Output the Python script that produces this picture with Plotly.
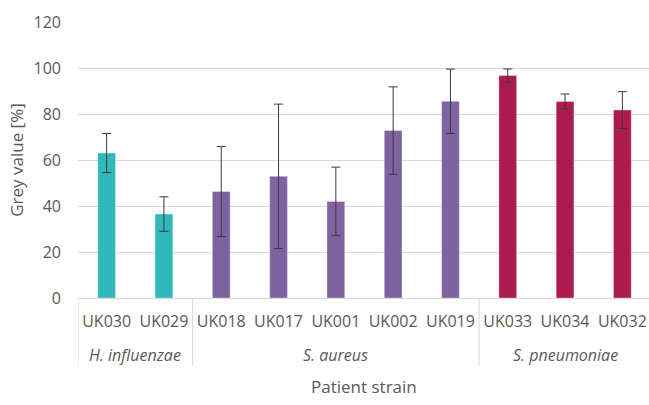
import plotly.graph_objects as go

# Grey value measurements per patient strain, grouped by species
strains = ["UK030", "UK029", "UK018", "UK017", "UK001", "UK002", "UK019", "UK033", "UK034", "UK032"]
species = ["H. influenzae", "H. influenzae",
           "S. aureus", "S. aureus", "S. aureus", "S. aureus", "S. aureus",
           "S. pneumoniae", "S. pneumoniae", "S. pneumoniae"]
grey_value = [63.0, 36.5, 46.3, 52.9, 42.0, 72.8, 85.5, 96.7, 85.4, 81.7]
grey_sd = [8.5, 7.5, 19.6, 31.4, 14.9, 19.0, 14.0, 2.9, 3.3, 8.0]
y_ticks = [0, 20, 40, 60, 80, 100, 120]

species_colors = {
    "H. influenzae": "#30b8ba",
    "S. aureus": "#7f63a1",
    "S. pneumoniae": "#ad1a50",
}

FONT = "Open Sans"
TEXT_COLOR = "#595959"
GRID_COLOR = "#d9d9d9"

fig = go.Figure(
    go.Bar(
        x=strains,
        y=grey_value,
        width=0.31,
        marker=dict(color=[species_colors[s] for s in species],
                    line=dict(color="rgba(255,255,255,0.35)", width=1)),
        error_y=dict(type="data", array=grey_sd, visible=True,
                     color="#3a3a3a", thickness=1, width=4.5),
        showlegend=False,
    )
)

# Species group labels and dividers under the strain labels
groups = []
for i, s in enumerate(species):
    if not groups or groups[-1][0] != s:
        groups.append([s, i, i])
    else:
        groups[-1][2] = i

shapes = []
annotations = []
for name, first, last in groups:
    annotations.append(dict(
        x=(first + last) / 2, y=-0.205, xref="x", yref="paper",
        text=f"<i>{name}</i>", showarrow=False,
        font=dict(family=FONT, size=16, color=TEXT_COLOR),
        yanchor="middle",
    ))
    shapes.append(dict(
        type="line", xref="x", yref="paper",
        x0=first - 0.5, x1=first - 0.5, y0=0, y1=-0.245,
        line=dict(color=GRID_COLOR, width=1),
    ))

annotations.append(dict(
    x=0.5, y=-0.322, xref="paper", yref="paper",
    text="Patient strain", showarrow=False,
    font=dict(family=FONT, size=17, color=TEXT_COLOR),
    yanchor="middle",
))

fig.update_layout(
    width=649, height=405,
    margin=dict(l=78, r=0, t=22, b=107),
    paper_bgcolor="white", plot_bgcolor="white",
    font=dict(family=FONT, size=16, color=TEXT_COLOR),
    shapes=shapes,
    annotations=annotations,
    xaxis=dict(
        type="category", range=[-0.5, 9.465],
        showgrid=False, showline=True, linecolor=GRID_COLOR, linewidth=1,
        ticks="", ticklabelstandoff=9,
        tickfont=dict(family=FONT, size=16, color=TEXT_COLOR),
    ),
    yaxis=dict(
        range=[0, 120], tickvals=y_ticks,
        showgrid=True, gridcolor=GRID_COLOR, gridwidth=1,
        zeroline=False, showline=False, ticks="",
        ticklabelstandoff=16,
        tickfont=dict(family=FONT, size=16, color=TEXT_COLOR),
        title=dict(text="Grey value [%]", standoff=5,
                   font=dict(family=FONT, size=17, color=TEXT_COLOR)),
    ),
)

fig.write_html("out.html")
